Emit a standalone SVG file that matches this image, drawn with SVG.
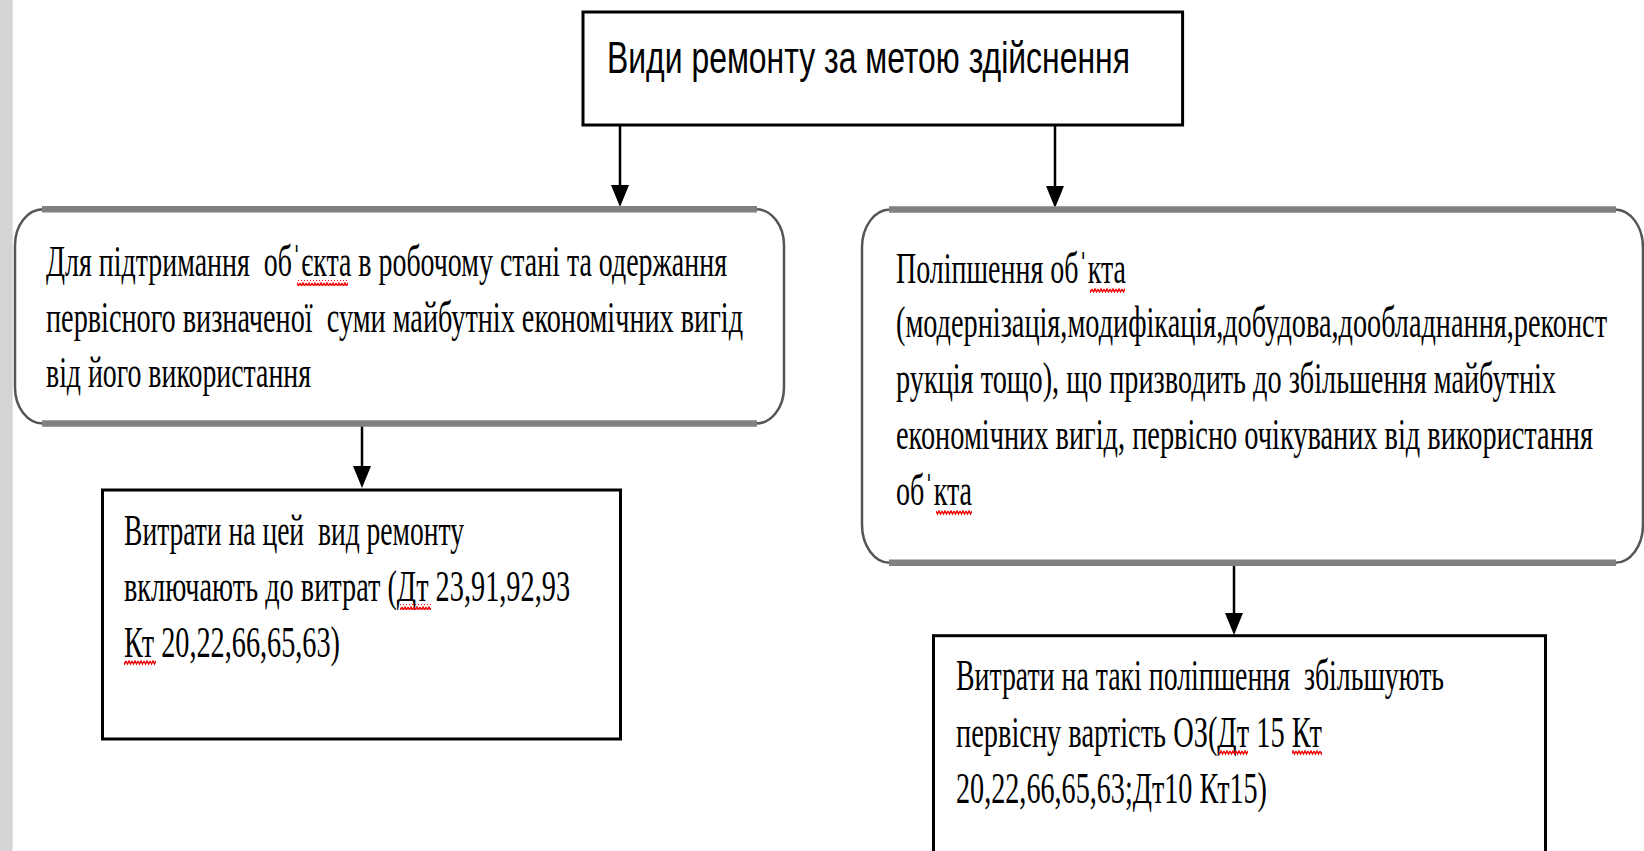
<svg xmlns="http://www.w3.org/2000/svg" width="1644" height="851" viewBox="0 0 1644 851">
<style>
.t{font-family:"Liberation Serif","Times New Roman",serif;font-size:45px;fill:#000;white-space:pre}
.h{font-family:"Liberation Sans",Arial,sans-serif;font-size:44px;fill:#000;white-space:pre}
.box{fill:#fff;stroke:#000;stroke-width:3}
.rbox{fill:#fff;stroke:#555;stroke-width:2.5}
.band{stroke:#808080;stroke-width:6.5;fill:none}
.con{stroke:#000;stroke-width:2.5;fill:none}
.sq{fill:url(#squig)}
</style>
<defs>
<pattern id="squig" patternUnits="userSpaceOnUse" width="6" height="6">
<path d="M0,1 L1.5,4 L3,1 L4.5,4 L6,1" stroke="#e00" stroke-width="1.4" fill="none"/>
</pattern>
</defs>
<rect x="0" y="0" width="1644" height="851" fill="#fff"/>
<rect x="0" y="0" width="12.7" height="851" fill="#d4d4d4"/>

<g id="connectors">
<path class="con" d="M620,124 V186"/>
<path d="M611,185 H629 L620,207 Z" fill="#000"/>
<path class="con" d="M1055,124 V187"/>
<path d="M1046,186 H1064 L1055,208 Z" fill="#000"/>
<path class="con" d="M362,426 V467"/>
<path d="M353,466 H371 L362,488 Z" fill="#000"/>
<path class="con" d="M1234,566 V614"/>
<path d="M1225,613 H1243 L1234,635 Z" fill="#000"/>
</g>

<g id="node-top">
<rect class="box" x="583" y="12" width="599.6" height="113"/>
<text class="h" transform="translate(607,73) scale(0.73,1)" textLength="716.4" lengthAdjust="spacingAndGlyphs">Види ремонту за метою здійснення</text>
</g>

<g id="node-left">
<rect class="rbox" x="15" y="209.3" width="769" height="214.2" rx="28" ry="36"/>
<line class="band" x1="42" y1="209.3" x2="757" y2="209.3"/>
<line class="band" x1="42" y1="423.5" x2="757" y2="423.5"/>
<text class="t" transform="translate(46,276) scale(0.66,1)" textLength="1031.8" lengthAdjust="spacingAndGlyphs">Для підтримання  обˈєкта в робочому стані та одержання</text>
<text class="t" transform="translate(46,332) scale(0.66,1)" textLength="1056.1" lengthAdjust="spacingAndGlyphs">первісного визначеної  суми майбутніх економічних вигід</text>
<text class="t" transform="translate(46,387) scale(0.66,1)" textLength="401.5" lengthAdjust="spacingAndGlyphs">від його використання</text>
<rect class="sq" x="297" y="280" width="51" height="6"/>
</g>

<g id="node-right">
<rect class="rbox" x="862" y="209.5" width="781" height="353.3" rx="28" ry="38"/>
<line class="band" x1="889" y1="209.5" x2="1616" y2="209.5"/>
<line class="band" x1="889" y1="562.8" x2="1616" y2="562.8"/>
<text class="t" transform="translate(896,283) scale(0.66,1)" textLength="348.5" lengthAdjust="spacingAndGlyphs">Поліпшення обˈкта</text>
<text class="t" transform="translate(896,337) scale(0.66,1)" textLength="1077.3" lengthAdjust="spacingAndGlyphs">(модернізація,модифікація,добудова,дообладнання,реконст</text>
<text class="t" transform="translate(896,393) scale(0.66,1)" textLength="1000" lengthAdjust="spacingAndGlyphs">рукція тощо), що призводить до збільшення майбутніх</text>
<text class="t" transform="translate(896,449) scale(0.66,1)" textLength="1056.1" lengthAdjust="spacingAndGlyphs">економічних вигід, первісно очікуваних від використання</text>
<text class="t" transform="translate(896,505) scale(0.66,1)" textLength="115.2" lengthAdjust="spacingAndGlyphs">обˈкта</text>
<rect class="sq" x="1090" y="287" width="35" height="6"/>
<rect class="sq" x="936" y="510" width="36" height="6"/>
</g>

<g id="node-left-cost">
<rect class="box" x="102.5" y="490" width="518" height="249"/>
<text class="t" transform="translate(124,545) scale(0.66,1)" textLength="515.2" lengthAdjust="spacingAndGlyphs">Витрати на цей  вид ремонту</text>
<text class="t" transform="translate(124,601) scale(0.66,1)" textLength="675.8" lengthAdjust="spacingAndGlyphs">включають до витрат (Дт 23,91,92,93</text>
<text class="t" transform="translate(124,657) scale(0.66,1)" textLength="327.3" lengthAdjust="spacingAndGlyphs">Кт 20,22,66,65,63)</text>
<rect class="sq" x="400" y="604" width="31" height="6"/>
<rect class="sq" x="124" y="660" width="32" height="6"/>
</g>

<g id="node-right-cost">
<rect class="box" x="933.5" y="635.7" width="612" height="240"/>
<text class="t" transform="translate(956,690) scale(0.66,1)" textLength="739.4" lengthAdjust="spacingAndGlyphs">Витрати на такі поліпшення  збільшують</text>
<text class="t" transform="translate(956,747) scale(0.66,1)" textLength="554.5" lengthAdjust="spacingAndGlyphs">первісну вартість ОЗ(Дт 15 Кт</text>
<text class="t" transform="translate(956,803) scale(0.66,1)" textLength="471.2" lengthAdjust="spacingAndGlyphs">20,22,66,65,63;Дт10 Кт15)</text>
<rect class="sq" x="1219" y="750" width="29" height="6"/>
<rect class="sq" x="1292" y="750" width="30" height="6"/>
</g>
</svg>
